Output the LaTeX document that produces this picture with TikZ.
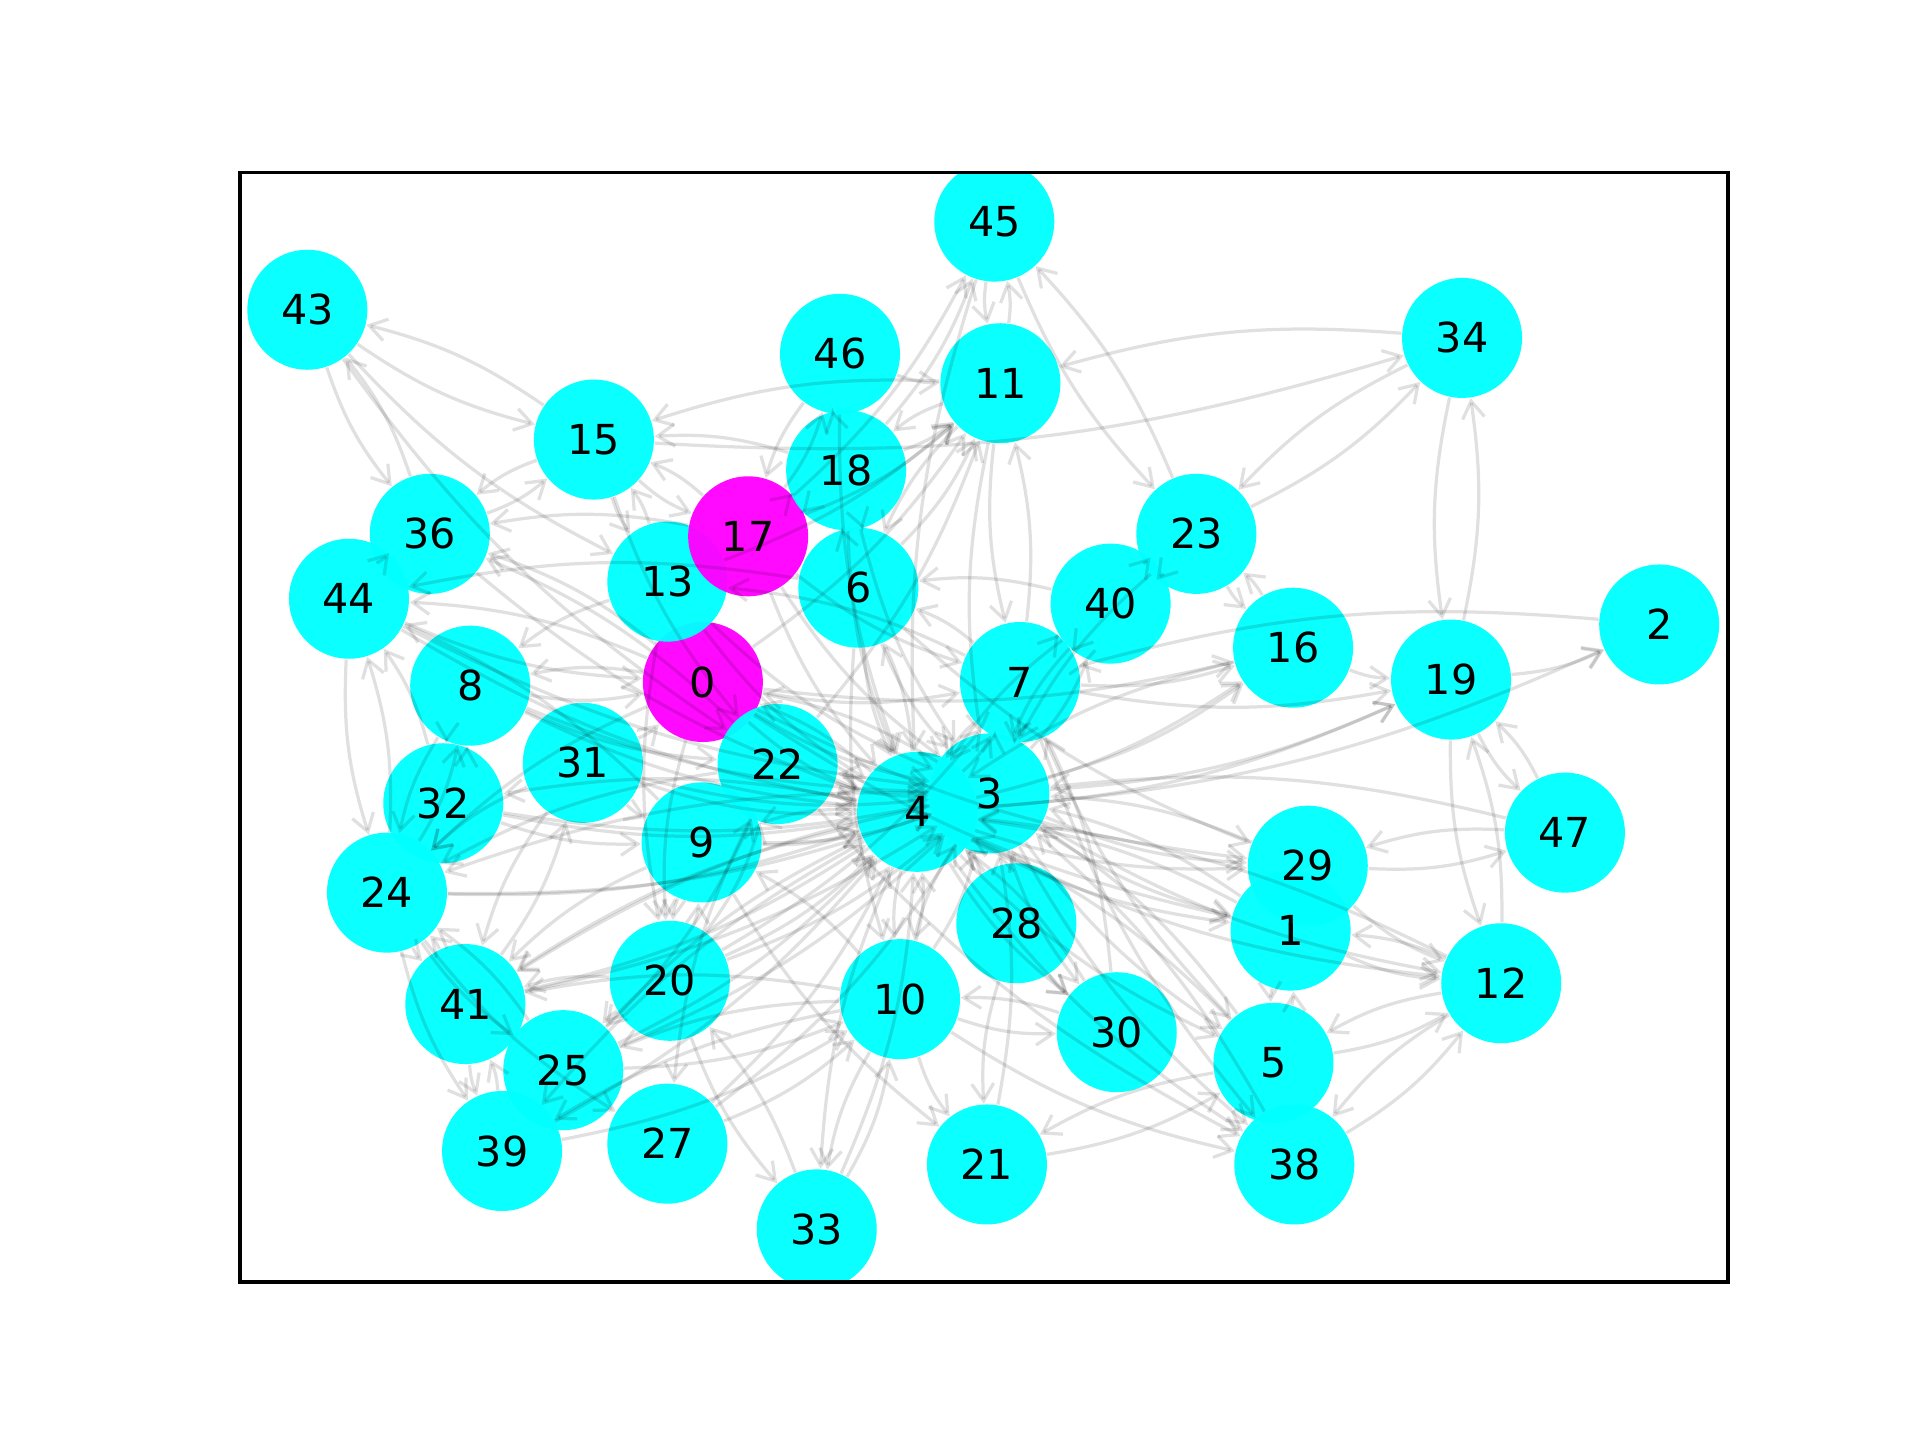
\documentclass[tikz,border=0pt]{standalone}
\usepackage{fontspec}
\setmainfont{DejaVu Sans}
\usepackage{tikz}
\usetikzlibrary{
	arrows.meta,
}
\definecolor{vertexcyan}{rgb}{0.0, 1.0, 1.0}
\definecolor{seedmagenta}{rgb}{1.0, 0.0, 1.0}

\begin{document}
\begin{tikzpicture}[
	labelfont/.style={font=\fontsize{9.6}{11}\selectfont},
	vertex/.style={circle, fill=vertexcyan, fill opacity=0.96, text opacity=1, inner sep=0pt, minimum size=0.98cm, labelfont},
	seed/.style={vertex, fill=seedmagenta},
	edgeline/.style={draw=black, draw opacity=0.12, line width=0.75pt, bend right=10, -{Straight Barb[length=1.4mm, width=1.8mm]}},
]
\useasboundingbox (0,0) rectangle (15.68,11.76);

\begin{scope}
\clip (1.96,1.29) rectangle (14.11,10.35);
% nodes
\node[seed] (n0) at (5.74,6.19) {0};
\node[vertex] (n1) at (10.54,4.16) {1};
\node[vertex] (n2) at (13.55,6.66) {2};
\node[vertex] (n3) at (8.08,5.28) {3};
\node[vertex] (n4) at (7.49,5.13) {4};
\node[vertex] (n5) at (10.40,3.08) {5};
\node[vertex] (n6) at (7.01,6.96) {6};
\node[vertex] (n7) at (8.33,6.19) {7};
\node[vertex] (n8) at (3.84,6.16) {8};
\node[vertex] (n9) at (5.73,4.88) {9};
\node[vertex] (n10) at (7.35,3.60) {10};
\node[vertex] (n11) at (8.17,8.63) {11};
\node[vertex] (n12) at (12.26,3.73) {12};
\node[vertex] (n13) at (5.45,7.01) {13};
\node[vertex] (n15) at (4.85,8.17) {15};
\node[vertex] (n16) at (10.56,6.47) {16};
\node[seed] (n17) at (6.11,7.38) {17};
\node[vertex] (n18) at (6.91,7.92) {18};
\node[vertex] (n19) at (11.85,6.21) {19};
\node[vertex] (n20) at (5.47,3.75) {20};
\node[vertex] (n21) at (8.06,2.25) {21};
\node[vertex] (n22) at (6.35,5.52) {22};
\node[vertex] (n23) at (9.77,7.40) {23};
\node[vertex] (n24) at (3.16,4.47) {24};
\node[vertex] (n25) at (4.60,3.02) {25};
\node[vertex] (n27) at (5.45,2.42) {27};
\node[vertex] (n28) at (8.30,4.22) {28};
\node[vertex] (n29) at (10.68,4.69) {29};
\node[vertex] (n30) at (9.12,3.33) {30};
\node[vertex] (n31) at (4.76,5.53) {31};
\node[vertex] (n32) at (3.62,5.20) {32};
\node[vertex] (n33) at (6.67,1.72) {33};
\node[vertex] (n34) at (11.94,9.00) {34};
\node[vertex] (n36) at (3.51,7.40) {36};
\node[vertex] (n38) at (10.57,2.25) {38};
\node[vertex] (n39) at (4.10,2.36) {39};
\node[vertex] (n40) at (9.07,6.83) {40};
\node[vertex] (n41) at (3.80,3.56) {41};
\node[vertex] (n43) at (2.51,9.23) {43};
\node[vertex] (n44) at (2.85,6.87) {44};
\node[vertex] (n45) at (8.12,9.95) {45};
\node[vertex] (n46) at (6.86,8.87) {46};
\node[vertex] (n47) at (12.78,4.96) {47};
\node[labelfont] (n1text) at (n1) {1}; % keep 1 readable above 29

% edges, grouped by source
\draw[edgeline] (n0) edge (n4) edge (n3) edge (n7) edge (n8) edge (n24) edge (n20) edge (n11) edge (n36) edge (n1) edge (n29) edge (n16) edge (n44);
\draw[edgeline] (n1) edge (n4) edge (n3) edge (n5) edge (n12);
\draw[edgeline] (n2) edge (n7);
\draw[edgeline] (n3) edge (n0) edge (n10) edge (n30) edge (n5) edge (n38) edge (n1) edge (n29) edge (n19) edge (n16) edge (n40) edge (n7) edge (n12) edge (n41) edge (n24);
\draw[edgeline] (n4) edge (n0) edge (n6) edge (n22) edge (n9) edge (n10) edge (n5) edge (n38) edge (n1) edge (n29) edge (n12) edge (n19) edge (n16) edge (n7) edge (n2) edge (n30) edge (n41) edge (n33) edge (n25) edge (n39) edge (n32);
\draw[edgeline] (n5) edge (n3) edge (n1) edge (n12) edge (n21) edge (n4);
\draw[edgeline] (n6) edge (n4) edge (n3) edge (n18) edge (n11) edge (n29) edge (n44) edge (n10);
\draw[edgeline] (n7) edge (n3) edge (n4) edge (n11) edge (n19) edge (n40) edge (n38) edge (n5) edge (n16) edge (n6) edge (n13);
\draw[edgeline] (n8) edge (n4) edge (n3) edge (n0) edge (n24) edge (n32) edge (n22);
\draw[edgeline] (n9) edge (n3) edge (n4) edge (n20) edge (n21) edge (n41) edge (n44);
\draw[edgeline] (n10) edge (n4) edge (n3) edge (n30) edge (n21) edge (n38) edge (n39) edge (n25) edge (n41) edge (n33) edge (n9);
\draw[edgeline] (n11) edge (n45) edge (n15) edge (n7) edge (n6) edge (n18) edge (n3);
\draw[edgeline] (n12) edge (n4) edge (n19) edge (n1) edge (n5) edge (n38);
\draw[edgeline] (n13) edge (n4) edge (n3) edge (n15) edge (n20) edge (n11) edge (n8);
\draw[edgeline] (n15) edge (n43) edge (n36) edge (n13) edge (n34) edge (n22) edge (n17);
\draw[edgeline] (n16) edge (n23) edge (n4) edge (n19);
\draw[edgeline] (n17) edge (n4) edge (n3) edge (n15) edge (n36) edge (n11) edge (n46) edge (n18) edge (n45) edge (n7);
\draw[edgeline] (n18) edge (n3) edge (n4) edge (n17) edge (n6) edge (n11) edge (n45) edge (n15);
\draw[edgeline] (n19) edge (n34) edge (n47) edge (n12) edge (n2);
\draw[edgeline] (n20) edge (n4) edge (n3) edge (n41) edge (n33) edge (n22) edge (n7) edge (n9) edge (n25);
\draw[edgeline] (n21) edge (n3) edge (n5);
\draw[edgeline] (n22) edge (n3) edge (n4) edge (n11) edge (n27) edge (n36) edge (n24) edge (n38);
\draw[edgeline] (n23) edge (n45) edge (n34) edge (n40) edge (n16) edge (n3);
\draw[edgeline] (n24) edge (n4) edge (n3) edge (n39) edge (n41) edge (n44) edge (n25) edge (n27) edge (n8);
\draw[edgeline] (n25) edge (n4) edge (n3) edge (n24) edge (n10) edge (n22);
\draw[edgeline] (n27) edge (n4) edge (n3) edge (n10);
\draw[edgeline] (n28) edge (n4) edge (n3) edge (n21) edge (n30);
\draw[edgeline] (n29) edge (n3) edge (n47) edge (n12);
\draw[edgeline] (n30) edge (n4) edge (n10) edge (n7);
\draw[edgeline] (n31) edge (n4) edge (n3) edge (n24) edge (n41) edge (n0) edge (n9);
\draw[edgeline] (n32) edge (n4) edge (n3) edge (n8) edge (n9) edge (n44);
\draw[edgeline] (n33) edge (n4) edge (n20) edge (n10);
\draw[edgeline] (n34) edge (n19) edge (n23) edge (n11);
\draw[edgeline] (n36) edge (n43) edge (n15) edge (n4) edge (n44);
\draw[edgeline] (n38) edge (n3) edge (n12);
\draw[edgeline] (n39) edge (n4) edge (n10) edge (n41);
\draw[edgeline] (n40) edge (n3) edge (n4) edge (n23) edge (n7) edge (n6);
\draw[edgeline] (n41) edge (n4) edge (n3) edge (n24) edge (n39) edge (n31);
\draw[edgeline] (n43) edge (n15) edge (n36) edge (n13) edge (n22);
\draw[edgeline] (n44) edge (n3) edge (n4) edge (n24) edge (n0);
\draw[edgeline] (n45) edge (n11) edge (n23) edge (n4);
\draw[edgeline] (n46) edge (n4) edge (n17) edge (n18) edge (n11);
\draw[edgeline] (n47) edge (n19) edge (n29) edge (n3);
\end{scope}

% axes frame
\draw[line width=0.8pt] (1.96,1.29) rectangle (14.11,10.35);
\end{tikzpicture}
\end{document}
